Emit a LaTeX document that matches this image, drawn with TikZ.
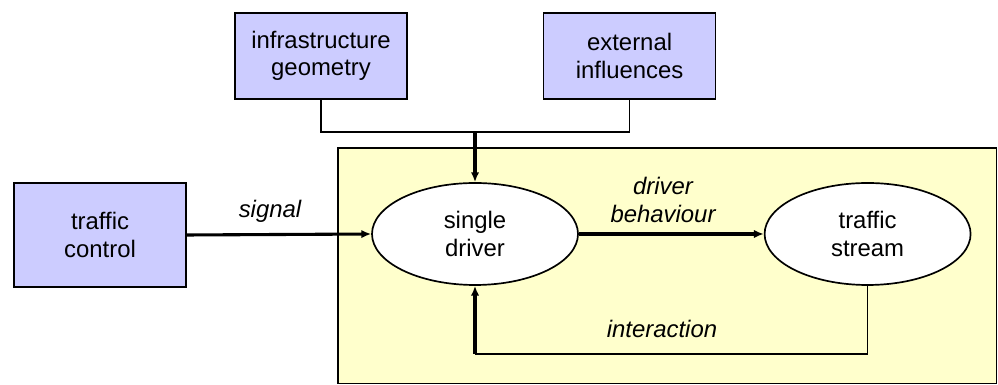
\documentclass[tikz,border=0pt]{standalone}
\usepackage{fontspec}
\setmainfont{Liberation Sans}
\usepackage{tikz}
\usetikzlibrary{arrows.meta,positioning,calc,shapes.geometric}
\definecolor{boxlilac}{HTML}{CCCCFF}
\definecolor{areayellow}{HTML}{FFFFCC}
\tikzset{
  inbox/.style={draw, fill=boxlilac, line width=0.9pt, minimum width=4.3cm, align=center},
  agent/.style={ellipse, draw, fill=white, line width=1.2pt, minimum width=5.15cm, minimum height=2.55cm, inner sep=0pt, align=center},
  flow/.style={line width=2.2pt, -{Latex[length=7pt,width=6pt]}},
  feed/.style={line width=0.9pt},
  lbl/.style={font=\fontsize{17}{19.5}\selectfont\itshape, align=center}
}

\begin{document}
\begin{tikzpicture}[font=\fontsize{17}{19.5}\selectfont]
\useasboundingbox (0,0) rectangle (24.95,9.625);
\fill[areayellow, draw=black, line width=0.9pt] (8.45,0.03) rectangle (24.92,5.925);
% inputs
\node[inbox, minimum height=2.6cm] (control) at (2.5,3.75) {traffic\\control};
\node[inbox, minimum height=2.15cm] (infra) at (8.025,8.225) {infrastructure\\geometry};
\node[inbox, minimum height=2.15cm] (extern) at (15.74,8.225) {external\\influences};
% driver and stream
\node[agent] (single) at (11.875,3.775) {single\\driver};
\node[agent] (stream) at (21.69,3.775) {traffic\\stream};
\coordinate (merge) at (11.875,6.325);
\coordinate (loopend) at (11.875,0.775);
\draw[feed] (infra.south) |- (merge) -| (extern.south);
\draw[flow] (merge) -- (single.north);
\draw[flow] (control.east) -- (single.west);
\draw[flow] (single.east) -- (stream.west);
\draw[feed] (stream.south) |- (loopend);
\draw[flow] (loopend) -- (single.south);
\node[lbl] (signal) at (6.75,4.33) {signal};
\node[lbl] (behave) at (16.575,4.63) {driver\\behaviour};
\node[lbl] (inter) at (16.55,1.4) {interaction};
\end{tikzpicture}
\end{document}
